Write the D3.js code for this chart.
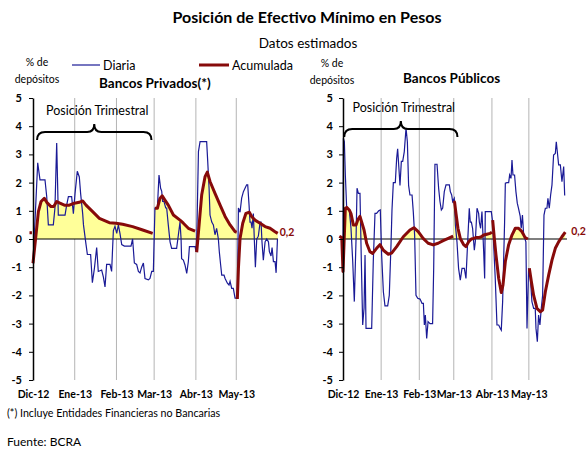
<html>
<script src="https://d3js.org/d3.v7.min.js"></script>
<style>
body { margin:0; background:#fff; }
text { font-family: Lato, "Open Sans", sans-serif; }
</style>
<body>
<svg width="587" height="450"></svg>
<script>

// ---- data (day = days since 1-Dic-2012, value = % de depositos) ----
const mesLabels = ["Dic-12","Ene-13","Feb-13","Mar-13","Abr-13","May-13"];
const yTicks = [-5,-4,-3,-2,-1,0,1,2,3,4,5];

const privDiaria = [[0,-0.86],[3.5,2.7],[5.2,2.1],[8.9,2.1],[10.2,1.5],[11.4,0.5],[15.1,0.5],[16.3,1.1],[17.6,3.4],[18.8,0.85],[23.8,0.85],[25,1.2],[26.3,1.5],[28.7,1.5],[30,0.9],[31.2,1.6],[32.9,2.4],[34.4,2.2],[35.4,1.6],[36.9,0.9],[37.5,0.5],[39.4,-0.2],[40.4,-0.55],[42.8,-0.55],[44.1,-1.55],[45.6,-1.05],[47.3,-0.3],[48.5,-1.15],[51,-1.1],[52.3,-1.35],[53.5,-1.7],[54.7,-0.9],[57.2,-0.9],[58.4,-1.15],[59.7,0.3],[60.9,0.45],[62.2,0.2],[63.4,0.5],[64.6,0.2],[65.9,-0.2],[67.9,-0.25],[72.8,-0.25],[74,0],[75.3,-0.85],[77,-0.9],[78.3,-1.15],[79.5,-1.2],[80.7,-1.0],[82,-0.85],[83.2,-1.4],[85.7,-1.45],[86.9,-1.4],[88.2,-1.15],[89.4,-1.15],[90.6,1.1],[92.4,1.1],[93.6,2.27],[94.8,1.8],[95.6,1.7],[96.3,1.33],[97.3,1.33],[98.6,1.1],[99.3,1.1],[100.5,0.5],[101.8,-0.1],[103,-0.33],[106.7,-0.33],[108,0.15],[109.2,0.6],[110,0],[110.4,-0.7],[111.7,-0.75],[112.9,-0.92],[114.2,-1.22],[115.4,-0.8],[116.2,-0.27],[120.4,-0.27],[121.1,-0.45],[121.7,0.15],[122.9,3.1],[124.1,3.45],[129,3.45],[129.8,2.75],[130.8,1.8],[131.5,0.85],[132.8,0.6],[134,0.5],[135.2,0.15],[136.4,0.38],[137.7,0],[138.4,-0.45],[139.4,-0.92],[140.2,-1.28],[141.9,-1.28],[142.7,-1.4],[144.4,-1.57],[145.6,-1.63],[146.4,-1.5],[147.6,-1.75],[148.8,-1.75],[150.1,-2.1],[151.8,-2.1],[152.6,1.1],[153.8,0.95],[155,1.45],[156.3,1.68],[157.5,1.8],[158.7,1.92],[159.5,1.92],[160.5,1.2],[161.2,0.6],[162,0.6],[162.7,0.38],[163.7,0.9],[164.4,0],[165.2,-1.0],[166.2,0],[167.4,0.1],[168.7,0.6],[169.4,0.6],[170.1,-0.1],[171.1,-0.75],[172.4,-0.1],[173.6,0],[174.9,-0.1],[175.6,-0.45],[176.8,-0.6],[177.6,-0.3],[178.6,-0.8],[179.8,-0.8],[180.6,-1.2],[181.6,0]];

// null = corte entre periodos
const privAcum = [[-2.6,0.22],[-0.8,0.22],null,[0,-0.86],[2.2,0.14],[4,0.97],[6,1.33],[8.4,1.44],[10.2,1.3],[13.4,1.15],[15.4,1.15],[17.6,1.33],[19.6,1.28],[23.3,1.2],[27,1.2],[30.7,1.27],[34.4,1.3],[36.9,1.35],[39.4,1.2],[44.3,0.97],[49.3,0.73],[56.7,0.58],[61.7,0.56],[66.6,0.52],[74,0.44],[81.5,0.32],[88.9,0.2],null,[90.6,1.09],[92.4,1.09],[94.3,1.44],[96,1.53],[98,1.38],[100.5,1.2],[104.3,0.85],[109.2,0.67],[111.7,0.56],[115.4,0.38],[120.4,0.28],null,[121.6,-0.47],[123.6,0.62],[125.3,1.56],[127.8,2.21],[129.5,2.37],[131.5,2.04],[135.2,1.62],[139,1.2],[142.7,0.8],[146.4,0.5],[150.1,0.26],[151.3,0.24],null,[151.8,-2.13],[152.6,-1.04],[153.8,0.02],[155.8,0.56],[158.2,0.91],[160.7,0.95],[162.4,0.8],[164.9,0.67],[168.7,0.56],[172.4,0.44],[176.1,0.38],[179.8,0.26],[181.8,0.2]];

const pubDiaria = [[0,-1.16],[0.3,3.57],[1.1,3.45],[1.9,2.27],[3,1.09],[5.1,1.03],[6.5,0.38],[7.9,-0.8],[9.2,-2.22],[10.6,0],[11.4,1.8],[12.5,1.62],[13.8,1.62],[14.9,-0.8],[16,-3.05],[17.1,-2.45],[17.9,-0.57],[18.7,-3.17],[23.3,-3.17],[24.6,-0.8],[26,0.91],[27.3,0.91],[29,1.0],[30.3,1.03],[31.4,-0.57],[32.8,-1.87],[34.1,-2.37],[36.3,-2.37],[37.6,-2.0],[39,-0.2],[39.8,1.03],[40.9,2.0],[42.5,2.0],[43.6,2.86],[44.4,3.2],[45.8,2.25],[46.3,1.9],[47.4,2.75],[48.5,2.75],[49.8,3.1],[51.2,3.93],[52.3,3.45],[53.3,1.9],[54.4,1.56],[56.1,1.56],[57.1,0.97],[58.2,0.14],[59.3,-2.0],[60.7,-2.1],[62.6,-2.13],[64.2,-2.28],[65.3,-2.28],[66.1,-3.05],[66.9,-2.7],[68,-3.53],[69.1,-2.93],[70.7,-3.0],[72.8,-3.0],[73.7,-1.0],[74.7,2.65],[76.4,2.65],[77.7,1.8],[78.8,1.33],[79.9,1.03],[81,1.1],[82.3,1.68],[83.7,1.92],[86.4,1.92],[87.2,1.68],[88.3,1.56],[89.1,1.33],[90.4,1.44],[91.3,0.5],[92.6,-0.1],[93.9,-1.04],[95.3,-1.46],[96.7,-1.04],[98.6,-1.04],[99.9,-1.4],[101.3,-0.1],[102.6,1.09],[103.4,0.6],[104.3,0.6],[105.3,0.38],[106.7,-0.4],[107.5,-0.1],[108.9,1.09],[110.2,0.91],[110.8,0.6],[111.8,0.38],[112.9,0.97],[114.3,-0.45],[115.1,-1.4],[115.6,0.97],[120.5,0.97],[121.6,0.6],[122.4,-0.2],[123.7,-1.4],[125.1,-3.05],[126.5,-3.05],[127.8,-3.17],[128.6,-3.23],[129.7,-2.22],[130.5,-0.8],[131.3,0.6],[131.9,1.98],[133.2,2.0],[134.6,2.0],[135.4,2.27],[136.5,2.15],[137.3,2.8],[138.1,2.27],[139.4,2.27],[140.5,1.68],[141.6,1.27],[142.6,1.09],[144,0.8],[144.8,0.38],[145.8,0.85],[146.8,0.14],[148.6,-0.1],[149.5,-3.17],[150.8,-1.04],[152.1,-1.28],[153.5,-2.22],[154.9,-2.46],[156.2,-2.46],[156.8,-3.17],[157.9,-3.64],[158.9,-2.7],[160,-3.05],[161.1,-2.46],[162.2,-2.0],[163.3,0.85],[164.4,1.09],[165.7,1.09],[166.5,1.44],[167.6,1.09],[168.7,1.56],[169.8,1.92],[171.1,2.98],[172.5,3.03],[173.3,3.45],[174.4,2.98],[175.2,2.63],[176.6,2.63],[177.9,2.03],[179.3,2.57],[180.1,1.56],[180.6,1.56]];

const pubAcum = [[-3,0.1],[-1,0.05],[0,-1.15],[1.9,1.09],[3,1.12],[5.1,1.03],[6.5,0.9],[8.4,0.5],[10.6,0.5],[12.2,0.7],[13.8,0.8],[15.2,0.6],[17.1,0.32],[19.2,-0.15],[21.9,-0.45],[24.1,-0.51],[27.3,-0.33],[30,-0.2],[32.8,-0.4],[36.8,-0.54],[39.5,-0.5],[43.6,-0.27],[49,0.08],[54.4,0.32],[57.6,0.4],[61.1,0.26],[65.1,0.02],[69.2,-0.15],[73.3,-0.21],[77.3,-0.15],[81.4,-0.06],[85.5,0.02],[89.5,0.1],null,[90,1.35],[90.7,1.3],[91.8,0.91],[93.4,0.38],[95.3,0.02],[98,-0.2],[99.9,-0.27],[102.1,-0.1],[104.3,0],[106.1,0.02],[108,0.05],[110.2,0.05],[112.4,0.08],[114.3,0.14],[116.9,0.17],[119.6,0.2],[121,0.24],null,[121.6,0.67],[123,0],[124.3,-0.57],[126.5,-1.4],[128.6,-1.9],[130,-1.63],[131.9,-0.8],[134.6,-0.2],[137.3,0.14],[140,0.38],[142.6,0.38],[145.4,0.26],[148,0.05],[150.2,0],null,[151.4,-1.04],[153,-1.5],[154.9,-2.0],[157.6,-2.46],[160.3,-2.58],[162.2,-2.52],[164.4,-1.87],[167.1,-1.28],[169.8,-0.75],[172.5,-0.33],[175.2,-0.1],[177.9,0.08],[180.6,0.24]];

// ---- drawing ----
const svg = d3.select("svg");
const base = new Date(2012, 11, 1);
const fin = new Date(2013, 5, 1);
const toDate = d => new Date(base.getTime() + d * 864e5);
const mesFechas = mesLabels.map((m, i) => new Date(2012, 11 + i, 1));

const azul = "#1a1a96", rojo = "#870a0a";

function panel(cfg) {
  const x = d3.scaleTime().domain([base, fin]).range([cfg.left, cfg.right]);
  const y = d3.scaleLinear().domain([-5, 5]).range([380, 98]);
  const g = svg.append("g");

  // grilla vertical mensual
  g.selectAll(".grid").data(mesFechas.slice(1)).enter().append("line")
    .attr("x1", d => x(d)).attr("x2", d => x(d))
    .attr("y1", y(5)).attr("y2", y(-5))
    .attr("stroke", "#b4b4b4").attr("stroke-width", 1);

  // relleno acumulada positiva
  const area = d3.area()
    .defined(d => d && d[0] >= 0)
    .x(d => x(toDate(d[0])))
    .y0(y(0))
    .y1(d => y(Math.max(d[1], 0)));
  g.append("path").datum(cfg.acum).attr("d", area).attr("fill", "#ffff99");

  // linea cero
  g.append("line")
    .attr("x1", x(base)).attr("x2", x(fin))
    .attr("y1", y(0)).attr("y2", y(0))
    .attr("stroke", "#000").attr("stroke-width", 1.2);

  const line = d3.line().defined(d => d).x(d => x(toDate(d[0]))).y(d => y(d[1]));

  g.append("path").datum(cfg.diaria).attr("d", line)
    .attr("fill", "none").attr("stroke", azul).attr("stroke-width", 1.2);

  g.append("path").datum(cfg.acum).attr("d", line)
    .attr("fill", "none").attr("stroke", rojo).attr("stroke-width", 3)
    .attr("stroke-linejoin", "round");

  // eje y
  const ya = g.append("g").attr("transform", "translate(" + cfg.left + ",0)")
    .call(d3.axisLeft(y).tickValues(yTicks).tickSize(4).tickSizeOuter(0)
      .tickPadding(cfg.pad).tickFormat(d => String(d)));
  ya.select(".domain").attr("stroke", "#000").attr("stroke-width", 1.5);
  ya.selectAll("line").attr("stroke", "#000");
  ya.selectAll("text").attr("fill", "#000")
    .style("font-size", "11px").style("font-weight", "bold")
    .style("font-family", "Lato, sans-serif");

  // eje x (solo etiquetas)
  const xa = g.append("g").attr("transform", "translate(0,380)")
    .call(d3.axisBottom(x).tickValues(mesFechas).tickSize(0).tickPadding(11)
      .tickFormat((d, i) => mesLabels[i]));
  xa.select(".domain").remove();
  xa.selectAll("text").attr("fill", "#000")
    .style("font-size", "10.5px").style("font-weight", "bold")
    .style("font-family", "Lato, sans-serif");

  // ultimo valor
  const ult = cfg.acum[cfg.acum.length - 1];
  g.append("text")
    .attr("x", x(toDate(ult[0])) + cfg.labDx).attr("y", y(ult[1]) + 3)
    .attr("fill", rojo).attr("font-size", "10.5px").attr("font-weight", "bold")
    .text("0,2");

  // llave "Posicion Trimestral"
  const bx0 = x(toDate(cfg.brace[0])), bx1 = x(toDate(cfg.brace[1])), bxm = x(toDate(cfg.brace[2]));
  const by = cfg.braceY;
  g.append("path")
    .attr("d", "M" + bx0 + "," + (by + 8) + " Q" + bx0 + "," + by + " " + (bx0 + 8) + "," + by +
      " L" + (bxm - 7) + "," + by + " Q" + bxm + "," + by + " " + bxm + "," + (by - 8) +
      " Q" + bxm + "," + by + " " + (bxm + 7) + "," + by +
      " L" + (bx1 - 8) + "," + by + " Q" + bx1 + "," + by + " " + bx1 + "," + (by + 8))
    .attr("fill", "none").attr("stroke", "#000").attr("stroke-width", 2);
  g.append("text").attr("x", bxm + 3).attr("y", by - 17).attr("text-anchor", "middle")
    .attr("font-size", "12.5px").text("Posición Trimestral");

  // unidad
  g.append("text").attr("x", cfg.unitX).attr("y", cfg.unitY).attr("text-anchor", "middle")
    .attr("font-size", "10.5px").text("% de");
  g.append("text").attr("x", cfg.unitX).attr("y", cfg.unitY + 17).attr("text-anchor", "middle")
    .attr("font-size", "10.5px").text("depósitos");

  g.append("text").attr("x", cfg.titX).attr("y", cfg.titY)
    .attr("font-size", "13.5px").attr("font-weight", "bold").text(cfg.titulo);
}

panel({ left: 33, right: 278, pad: 7, diaria: privDiaria, acum: privAcum, labDx: 2,
  brace: [3, 88, 45.5], braceY: 132, unitX: 37, unitY: 66,
  titX: 99, titY: 88, titulo: "Bancos Privados(*)" });

panel({ left: 343, right: 567, pad: 6, diaria: pubDiaria, acum: pubAcum, labDx: 6,
  brace: [1, 93, 47], braceY: 129, unitX: 332, unitY: 67,
  titX: 403, titY: 83, titulo: "Bancos Públicos" });

// titulos
svg.append("text").attr("x", 307).attr("y", 23).attr("text-anchor", "middle")
  .attr("font-size", "16px").attr("font-weight", "bold")
  .text("Posición de Efectivo Mínimo en Pesos");
svg.append("text").attr("x", 308).attr("y", 48).attr("text-anchor", "middle")
  .attr("font-size", "13.5px").text("Datos estimados");

// leyenda
const leyenda = [
  { nombre: "Diaria", color: azul, ancho: 1.2, x0: 72, x1: 100 },
  { nombre: "Acumulada", color: rojo, ancho: 3, x0: 199, x1: 229 }
];
const lg = svg.selectAll(".ley").data(leyenda).enter().append("g");
lg.append("line").attr("x1", d => d.x0).attr("x2", d => d.x1).attr("y1", 65).attr("y2", 65)
  .attr("stroke", d => d.color).attr("stroke-width", d => d.ancho);
lg.append("text").attr("x", d => d.x1 + 3).attr("y", 70).attr("font-size", "12.5px")
  .text(d => d.nombre);

// notas
svg.append("text").attr("x", 7).attr("y", 417).attr("font-size", "10.7px")
  .text("(*) Incluye Entidades Financieras no Bancarias");
svg.append("text").attr("x", 7).attr("y", 446).attr("font-size", "12px")
  .text("Fuente: BCRA");

</script>
</body>
</html>
